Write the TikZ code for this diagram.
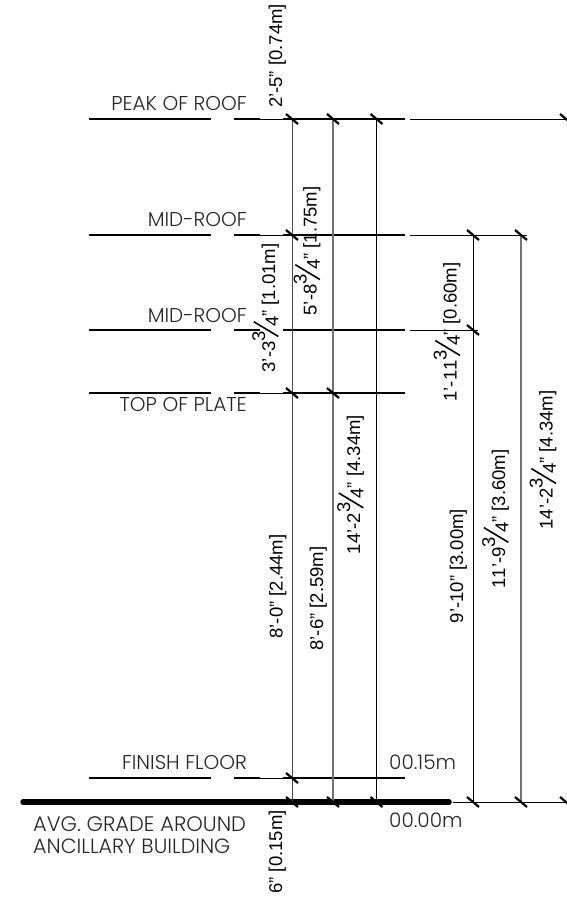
\documentclass[tikz,border=0pt]{standalone}
\usepackage{fontspec}
\usepackage{xcolor}
\usepackage{tikz}
\usetikzlibrary{calc}
\setmainfont[Kerning=Off]{Liberation Sans}
\newfontfamily\gothicfont{Poppins Light}
\newcommand{\threefour}{\raisebox{.53em}{3}\kern-.32em\raisebox{-.16em}{\rotatebox{-31}{\rule{.085em}{1.55em}}}\kern-.32em\raisebox{-.18em}{4}}
\newcommand{\tickat}[1]{\draw[tick] ($(#1)+(-6,-5)$) -- ($(#1)+(6,5)$);}

\begin{document}
\begin{tikzpicture}[
    x=1pt, y=-1pt,
    level/.style={font=\gothicfont\fontsize{20}{24}\selectfont, text=black!85, inner sep=0pt, anchor=base east},
    elev/.style={level, anchor=base west},
    dimtext/.style={font=\fontsize{18.5}{22}\selectfont, rotate=90, inner sep=0pt, anchor=base},
    heavy/.style={line width=1.6pt},
    thin line/.style={line width=0.8pt},
    witness/.style={line width=1pt, black!70},
    wide witness/.style={line width=1.3pt, black!55},
    tick/.style={line width=2.2pt}
]
\useasboundingbox (0,0) rectangle (566,903);

% levels
\coordinate (peakA) at (89,119);   \coordinate (peakB) at (211,119);
\coordinate (peakC) at (234,119);  \coordinate (peakD) at (260,119);
\coordinate (peakE) at (283,119);  \coordinate (peakF) at (405,119);
\coordinate (peakG) at (410,119);  \coordinate (peakH) at (566,119);
\coordinate (midA) at (89,235);    \coordinate (midB) at (211,235);
\coordinate (midC) at (234,235);   \coordinate (midD) at (260,235);
\coordinate (midE) at (283,235);   \coordinate (midF) at (405,235);
\coordinate (midG) at (410,235);   \coordinate (midH) at (527,235);
\coordinate (lowA) at (89,330);    \coordinate (lowB) at (211,330);
\coordinate (lowC) at (234,330);   \coordinate (lowD) at (260,330);
\coordinate (lowE) at (283,330);   \coordinate (lowF) at (405,330);
\coordinate (lowG) at (410,330);   \coordinate (lowH) at (478,330);
\coordinate (plateA) at (89,393);  \coordinate (plateB) at (211,393);
\coordinate (plateC) at (234,393); \coordinate (plateD) at (260,393);
\coordinate (plateE) at (283,393); \coordinate (plateF) at (405,393);
\coordinate (floorA) at (89,778);  \coordinate (floorB) at (211,778);
\coordinate (floorC) at (234,778); \coordinate (floorD) at (260,778);
\coordinate (floorE) at (283,778); \coordinate (floorF) at (405,778);
\coordinate (gradeA) at (23,802);  \coordinate (gradeB) at (449,802);
\coordinate (gradeC) at (453,802); \coordinate (gradeD) at (566,802);

\draw[heavy] (peakA) -- (peakB);
\draw[heavy] (peakC) -- (peakD);
\draw[thin line] (peakD) -- (peakE);
\draw[heavy] (peakE) -- (peakF);
\draw[thin line] (peakG) -- (peakH);
\draw[heavy] (midA) -- (midB);
\draw[heavy] (midC) -- (midD);
\draw[thin line] (midD) -- (midE);
\draw[heavy] (midE) -- (midF);
\draw[thin line] (midG) -- (midH);
\draw[heavy] (lowC) -- (lowD);
\draw[heavy] (lowA) -- (lowB);
\draw[heavy] (lowE) -- (lowF);
\draw[thin line] (lowG) -- (lowH);
\draw[heavy] (plateA) -- (plateB);
\draw[heavy] (plateC) -- (plateD);
\draw[thin line] (plateD) -- (plateE);
\draw[heavy] (plateE) -- (plateF);
\draw[heavy] (floorA) -- (floorB);
\draw[heavy] (floorC) -- (floorD);
\draw[thin line] (floorD) -- (floorE);
\draw[heavy] (floorE) -- (floorF);
\draw[line width=5.5pt, line cap=round] (gradeA) -- (gradeB);
\draw[thin line] (gradeC) -- (gradeD);

% witness lines
\coordinate (colAtop) at (292,119);  \coordinate (colAmid) at (292,235);
\coordinate (colAplate) at (292,393);\coordinate (colAfloor) at (292,778);
\coordinate (colAbot) at (292,802);
\coordinate (colBtop) at (333,119);  \coordinate (colBplate) at (333,393);
\coordinate (colBbot) at (333,802);
\coordinate (colCtop) at (376.5,119);\coordinate (colCbot) at (376.5,802);
\coordinate (colDtop) at (473,235);  \coordinate (colDlow) at (473,330);
\coordinate (colDbot) at (473,802);
\coordinate (colEtop) at (521,235);  \coordinate (colEbot) at (521,802);
\coordinate (colFtop) at (566,119);  \coordinate (colFbot) at (566,802);

\draw[witness] (colAtop) -- (colAbot);
\draw[wide witness] (colBtop) -- (colBbot);
\draw[witness, black] (colCtop) -- (colCbot);
\draw[witness, black] (colDtop) -- (colDbot);
\draw[wide witness] (colEtop) -- (colEbot);

\tickat{colAtop} \tickat{colAmid} \tickat{colAplate} \tickat{colAfloor} \tickat{colAbot}
\tickat{colBtop} \tickat{colBplate} \tickat{colBbot}
\tickat{colCtop} \tickat{colCbot}
\tickat{colDtop} \tickat{colDlow} \tickat{colDbot}
\tickat{colEtop} \tickat{colEbot}
\tickat{colFtop} \tickat{colFbot}

\node[level] (peak) at (247,110) {PEAK OF ROOF};
\node[level] (midroof) at (247,226) {MID-ROOF};
\node[level] (lowroof) at (247,322) {MID-ROOF};
\node[level] (plate) at (247,411) {TOP OF PLATE};
\node[level] (finish) at (247,769) {FINISH FLOOR};
\node[elev] (elevfloor) at (389,769) {00.15m};
\node[elev] (elevgrade) at (389,827) {00.00m};
\node[elev, font=\gothicfont\fontsize{21}{24}\selectfont] (gradeup) at (33,831) {AVG. GRADE AROUND};
\node[elev, font=\gothicfont\fontsize{20.6}{24}\selectfont] (gradelow) at (33,853) {ANCILLARY BUILDING};

\node[dimtext] (dimpeak) at (282,56) {2'-5" [0.74m]};
\node[dimtext] (dimupper) at (316.5,251) {5'-8\threefour" [1.75m]};
\node[dimtext] (dimlower) at (275,308) {3'-3\threefour" [1.01m]};
\node[dimtext] (dimside) at (456.5,332) {1'-11\threefour" [0.60m]};
\node[dimtext] (dimtotal) at (360,484.5) {14'-2\threefour" [4.34m]};
\node[dimtext] (dimwall) at (282.5,586.5) {8'-0" [2.44m]};
\node[dimtext] (dimwallb) at (323,598.5) {8'-6" [2.59m]};
\node[dimtext] (dimnine) at (463,566) {9'-10" [3.00m]};
\node[dimtext] (dimeleven) at (505,519) {11'-9\threefour" [3.60m]};
\node[dimtext] (dimfar) at (552.5,460) {14'-2\threefour" [4.34m]};
\node[dimtext] (dimsix) at (282,852) {6" [0.15m]};

\end{tikzpicture}
\end{document}
